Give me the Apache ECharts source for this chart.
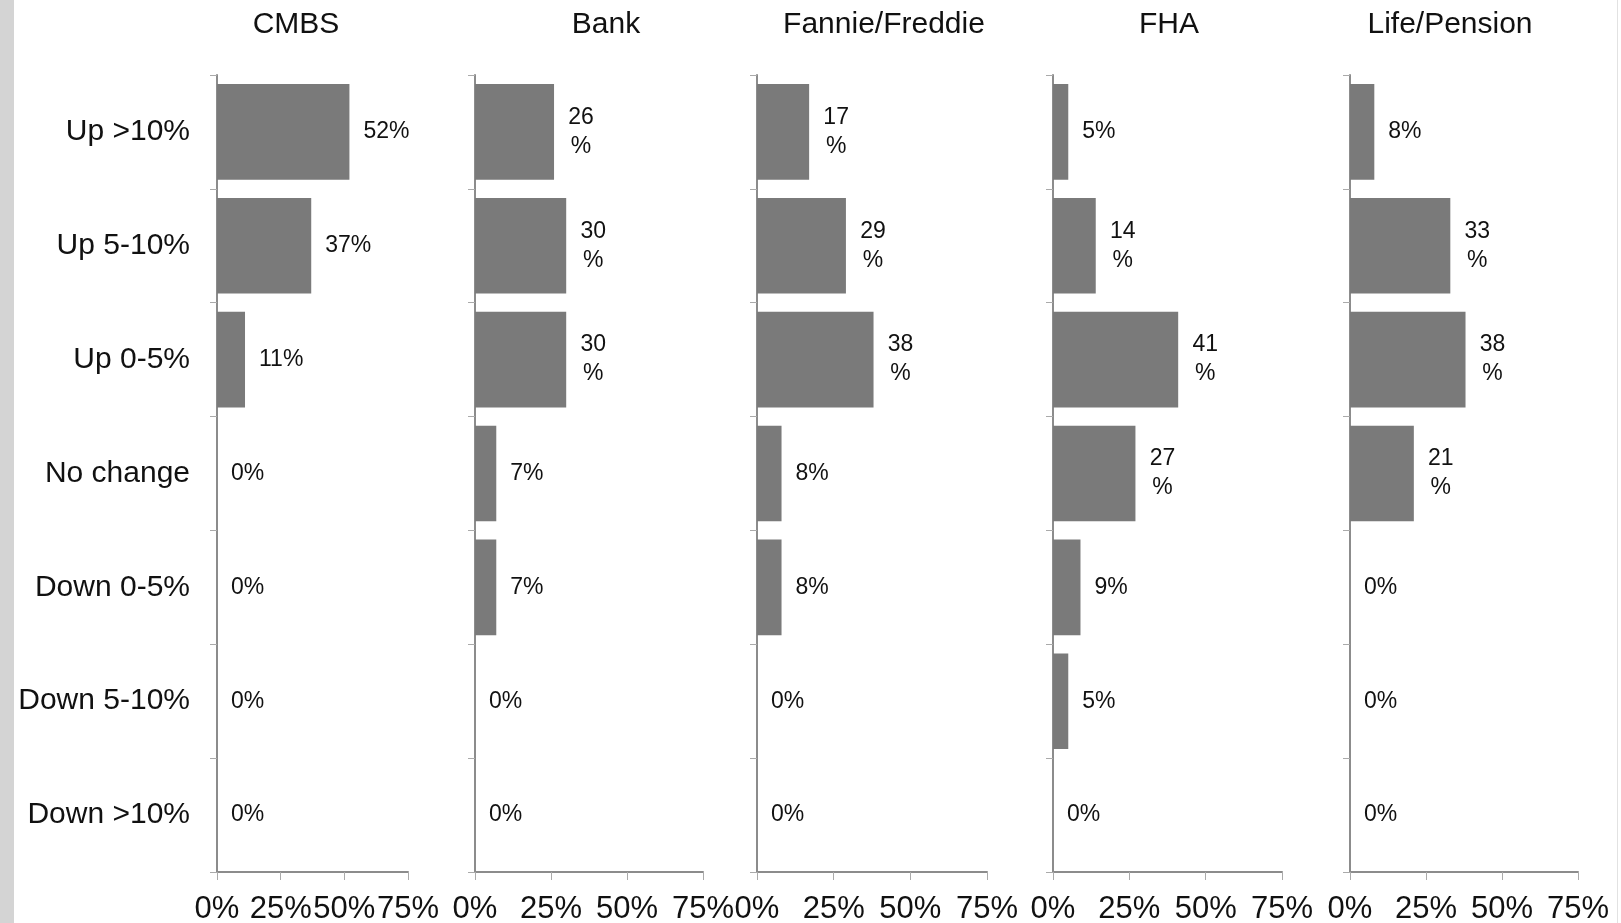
<!DOCTYPE html>
<html>
<head>
<meta charset="utf-8">
<script src="https://cdn.jsdelivr.net/npm/echarts@6/dist/echarts.min.js"></script>
<style>
html,body{margin:0;padding:0;background:#fff;}
#chart{width:1621px;height:923px;}
</style>
</head>
<body>
<div id="chart"></div>
<script>
const categories = ['Up >10%', 'Up 5-10%', 'Up 0-5%', 'No change', 'Down 0-5%', 'Down 5-10%', 'Down >10%'];
const panelNames = ['CMBS', 'Bank', 'Fannie/Freddie', 'FHA', 'Life/Pension'];
const cmbs = [52, 37, 11, 0, 0, 0, 0];
const bank = [26, 30, 30, 7, 7, 0, 0];
const fannieFreddie = [17, 29, 38, 8, 8, 0, 0];
const fha = [5, 14, 41, 27, 9, 5, 0];
const lifePension = [8, 33, 38, 21, 0, 0, 0];
const xTickValues = [0, 25, 50, 75];

const panelValues = [cmbs, bank, fannieFreddie, fha, lifePension];
// layout (pixels)
const gridLeft = [217, 475, 757, 1053, 1350];
const gridWidth = [191, 228, 230, 229, 228];
const titleX = [296, 606, 884, 1169, 1450];
const wrapLabel = [false, true, true, true, true];

const FONT = '"Liberation Sans", Arial, sans-serif';
const axisColor = '#8c8c8c';
const barColor = '#7a7a7a';

const chart = echarts.init(document.getElementById('chart'));

const grids = [], xAxes = [], yAxes = [], series = [], titles = [];
panelNames.forEach((name, i) => {
  grids.push({left: gridLeft[i], width: gridWidth[i], top: 75, height: 797, containLabel: false, outerBoundsMode: 'none'});
  titles.push({
    text: name, left: titleX[i], top: 10, textAlign: 'center', padding: 0,
    textStyle: {fontFamily: FONT, fontSize: 30, fontWeight: 'normal', color: '#111'}
  });
  xAxes.push({
    type: 'value', gridIndex: i,
    min: xTickValues[0], max: xTickValues[xTickValues.length - 1],
    interval: xTickValues[1] - xTickValues[0],
    splitLine: {show: false},
    axisLine: {show: true, lineStyle: {color: axisColor, width: 2}},
    axisTick: {show: true, length: 8, lineStyle: {color: '#aaaaaa', width: 1}},
    axisLabel: {
      show: true, margin: 22, hideOverlap: false,
      formatter: '{value}%', fontFamily: FONT, fontSize: 31, color: '#111'
    }
  });
  yAxes.push({
    type: 'category', gridIndex: i, inverse: true, data: categories,
    axisLine: {show: true, lineStyle: {color: axisColor, width: 2}},
    axisTick: {show: true, length: 7, lineStyle: {color: '#aaaaaa', width: 1}},
    axisLabel: {
      show: i === 0, margin: 27, fontFamily: FONT, fontSize: 30, color: '#111'
    },
    splitLine: {show: false}
  });
  const wrap = wrapLabel[i];
  series.push({
    type: 'bar', xAxisIndex: i, yAxisIndex: i,
    data: panelValues[i],
    barCategoryGap: '16%',
    itemStyle: {color: barColor},
    label: {
      show: true, position: 'right', distance: 14,
      fontFamily: FONT, fontSize: 23, color: '#111', lineHeight: 29,
      formatter: p => (wrap && p.value >= 10) ? ('{w|' + p.value + '}\n{w|%}') : (p.value + '%'),
      rich: {w: {width: 26, align: 'center', fontFamily: FONT, fontSize: 23, lineHeight: 29, color: '#111'}}
    },
    emphasis: {disabled: true},
    animation: false
  });
});

chart.setOption({
  animation: false,
  backgroundColor: '#ffffff',
  title: titles,
  grid: grids,
  xAxis: xAxes,
  yAxis: yAxes,
  series: series,
  graphic: [
    {type: 'rect', left: 0, top: 0, shape: {width: 14, height: 923}, style: {fill: '#d4d4d4'}, silent: true},
    {type: 'rect', left: 1617, top: 0, shape: {width: 1, height: 923}, style: {fill: '#e2e2e2'}, silent: true}
  ]
});
</script>
</body>
</html>
